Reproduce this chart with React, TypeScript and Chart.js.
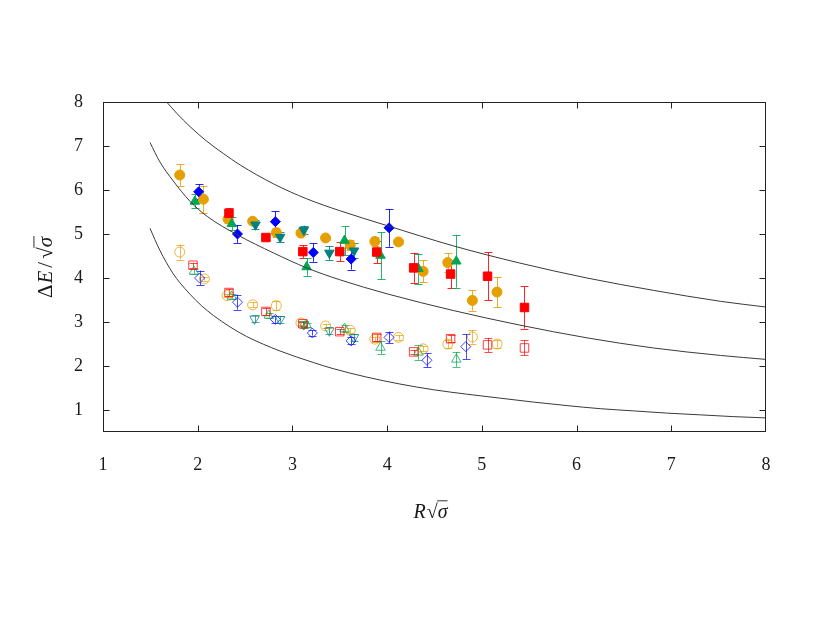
import React, { useEffect, useRef } from 'react';
import { Chart, registerables } from 'chart.js';

Chart.register(...registerables);

// ---- axis ticks ----
const xTicks = [1, 2, 3, 4, 5, 6, 7, 8];
const yTicks = [1, 2, 3, 4, 5, 6, 7, 8];

// ---- theory curves ----
const curveUpperX = [1.672, 1.78, 1.919, 2.095, 2.27, 2.447, 2.8, 3.15, 3.5, 4.0, 4.7, 5.4, 6.11, 6.81, 7.52, 8.0];
const curveUpperY = [8.0, 7.74, 7.44, 7.11, 6.83, 6.57, 6.14, 5.8, 5.53, 5.19, 4.73, 4.34, 4.0, 3.72, 3.47, 3.34];
const curveMiddleX = [1.496, 1.6, 1.74, 1.92, 2.1, 2.42, 2.8, 3.15, 3.5, 4.0, 4.7, 5.4, 6.11, 6.81, 7.52, 8.0];
const curveMiddleY = [7.08, 6.64, 6.21, 5.74, 5.4, 4.98, 4.57, 4.23, 3.96, 3.64, 3.26, 2.93, 2.64, 2.41, 2.24, 2.15];
const curveLowerX = [1.496, 1.6, 1.74, 1.813, 1.919, 2.04, 2.165, 2.34, 2.517, 2.87, 3.22, 3.43, 3.78, 4.135, 4.49, 4.84, 5.19, 5.545, 5.9, 6.25, 6.6, 6.95, 7.3, 7.65, 8.0];
const curveLowerY = [5.13, 4.63, 4.1, 3.89, 3.63, 3.37, 3.15, 2.89, 2.67, 2.34, 2.08, 1.94, 1.75, 1.59, 1.46, 1.36, 1.27, 1.18, 1.1, 1.03, 0.98, 0.93, 0.89, 0.85, 0.82];

// ---- upper group (filled markers) ----
const sqFX = [2.33, 2.72, 3.11, 3.5, 3.89, 4.28, 4.67, 5.06, 5.45];
const sqFY = [5.47, 4.92, 4.6, 4.6, 4.59, 4.23, 4.09, 4.04, 3.33];
const sqFE = [0.12, 0.05, 0.15, 0.22, 0.25, 0.34, 0.32, 0.54, 0.48];

const dmFX = [2.01, 2.42, 2.82, 3.22, 3.62, 4.02];
const dmFY = [5.96, 5.0, 5.28, 4.58, 4.43, 5.14];
const dmFE = [0.17, 0.2, 0.24, 0.21, 0.24, 0.43];

const trFX = [1.97, 2.36, 3.15, 3.55, 3.93, 4.33, 4.73];
const trFY = [5.74, 5.23, 4.25, 4.85, 4.51, 4.21, 4.38];
const trFE = [0.16, 0.15, 0.2, 0.33, 0.53, 0.34, 0.6];

const tdFX = [2.61, 2.87, 3.12, 3.39, 3.65];
const tdFY = [5.21, 4.93, 5.09, 4.57, 4.62];
const tdFE = [0.1, 0.12, 0.1, 0.16, 0.17];

const ciFX = [1.81, 2.06, 2.32, 2.58, 2.83, 3.09, 3.35, 3.61, 3.87, 4.12, 4.38, 4.64, 4.9, 5.16];
const ciFY = [6.34, 5.79, 5.34, 5.29, 5.03, 5.02, 4.91, 4.75, 4.83, 4.82, 4.15, 4.35, 3.49, 3.68];
const ciFE = [0.24, 0.31, 0.08, 0.04, 0.1, 0.04, 0.04, 0.11, 0.11, 0.04, 0.25, 0.21, 0.23, 0.34];

// ---- lower group (open markers) ----
const sqOX = [1.95, 2.33, 2.72, 3.11, 3.5, 3.89, 4.28, 4.67, 5.06, 5.45];
const sqOY = [4.29, 3.67, 3.24, 2.96, 2.78, 2.65, 2.32, 2.62, 2.48, 2.41];
const sqOE = [0.06, 0.08, 0.08, 0.05, 0.06, 0.08, 0.05, 0.08, 0.16, 0.17];

const dmOX = [2.02, 2.42, 2.82, 3.21, 3.62, 4.02, 4.42, 4.83];
const dmOY = [4.0, 3.45, 3.06, 2.75, 2.57, 2.65, 2.13, 2.44];
const dmOE = [0.17, 0.17, 0.08, 0.06, 0.08, 0.13, 0.16, 0.28];

const trOX = [1.96, 2.36, 2.75, 3.15, 3.55, 3.93, 4.33, 4.73];
const trOY = [4.15, 3.58, 3.15, 2.93, 2.85, 2.42, 2.31, 2.15];
const trOE = [0.05, 0.05, 0.05, 0.05, 0.08, 0.15, 0.17, 0.17];

const tdOX = [2.6, 2.87, 3.12, 3.39, 3.65];
const tdOY = [3.07, 3.06, 2.94, 2.8, 2.65];
const tdOE = [0.08, 0.08, 0.08, 0.08, 0.08];

const ciOX = [1.81, 2.07, 2.31, 2.58, 2.83, 3.09, 3.35, 3.61, 3.87, 4.12, 4.38, 4.64, 4.9, 5.16];
const ciOY = [4.59, 3.98, 3.6, 3.39, 3.37, 2.98, 2.91, 2.81, 2.61, 2.65, 2.39, 2.5, 2.66, 2.5];
const ciOE = [0.17, 0.04, 0.04, 0.06, 0.1, 0.04, 0.05, 0.06, 0.06, 0.05, 0.06, 0.1, 0.15, 0.08];

const RED = '#ff0000';
const BLUE = '#0000ff';
const GREEN = '#00a651';
const TEAL = '#008080';
const ORANGE = '#e69f00';
const FONT = '"Liberation Serif", "DejaVu Serif", serif';

const pts = (xs: number[], ys: number[]) => xs.map((x, i) => ({ x, y: ys[i] }));

function alpha(hex: string, a: number) {
  const n = parseInt(hex.slice(1), 16);
  return `rgba(${(n >> 16) & 255},${(n >> 8) & 255},${n & 255},${a})`;
}

function markerSet(xs: number[], ys: number[], es: number[], color: string, style: string, radius: number, filled: boolean, rotation = 0) {
  return {
    data: pts(xs, ys),
    errorBars: es,
    barColor: filled ? alpha(color, 0.85) : alpha(color, 0.7),
    showLine: false,
    pointStyle: style,
    pointRadius: radius,
    pointRotation: rotation,
    pointBorderWidth: 1,
    borderColor: filled ? color : alpha(color, 0.75),
    backgroundColor: filled ? color : 'rgba(0,0,0,0)',
    pointBackgroundColor: filled ? color : 'rgba(0,0,0,0)',
    pointBorderColor: filled ? color : alpha(color, 0.75),
  };
}

function curveSet(xs: number[], ys: number[]) {
  return {
    data: pts(xs, ys),
    showLine: true,
    pointRadius: 0,
    borderColor: '#3a3a3a',
    borderWidth: 1,
    cubicInterpolationMode: 'monotone',
    fill: false,
  };
}

const errorBarPlugin = {
  id: 'errorBars',
  beforeDatasetsDraw(chart: any) {
    const { ctx, chartArea, scales } = chart;
    ctx.save();
    ctx.beginPath();
    ctx.rect(chartArea.left, chartArea.top, chartArea.right - chartArea.left, chartArea.bottom - chartArea.top);
    ctx.clip();
    chart.data.datasets.forEach((ds: any) => {
      if (!ds.errorBars) return;
      ctx.strokeStyle = ds.barColor;
      ctx.lineWidth = 1;
      ds.data.forEach((p: any, i: number) => {
        const e = ds.errorBars[i];
        const px = Math.round(scales.x.getPixelForValue(p.x)) + 0.5;
        const y1 = scales.y.getPixelForValue(p.y + e);
        const y2 = scales.y.getPixelForValue(p.y - e);
        ctx.beginPath();
        ctx.moveTo(px, y1);
        ctx.lineTo(px, y2);
        ctx.moveTo(px - 4, Math.round(y1) + 0.5);
        ctx.lineTo(px + 4, Math.round(y1) + 0.5);
        ctx.moveTo(px - 4, Math.round(y2) + 0.5);
        ctx.lineTo(px + 4, Math.round(y2) + 0.5);
        ctx.stroke();
      });
    });
    ctx.restore();
  },
};

function drawMath(ctx: CanvasRenderingContext2D, segs: any[], cx: number, baseY: number, size: number) {
  const fontOf = (it: boolean) => `${it ? 'italic ' : ''}${size}px ${FONT}`;
  let total = 0;
  const widths = segs.map((s) => {
    ctx.font = fontOf(!!s.it);
    const w = ctx.measureText(s.t).width + (s.gap || 0);
    total += w;
    return w;
  });
  let x = cx - total / 2;
  ctx.textBaseline = 'alphabetic';
  ctx.textAlign = 'left';
  ctx.fillStyle = '#1a1a1a';
  ctx.strokeStyle = '#1a1a1a';
  segs.forEach((s, i) => {
    ctx.font = fontOf(!!s.it);
    ctx.fillText(s.t, x + (s.pre || 0), baseY);
    if (s.over) {
      ctx.beginPath();
      ctx.lineWidth = 0.9;
      const oy = baseY - size * 0.86;
      ctx.moveTo(x - 0.5, oy);
      ctx.lineTo(x + widths[i], oy);
      ctx.stroke();
    }
    x += widths[i];
  });
}

const framePlugin = {
  id: 'frame',
  afterDraw(chart: any) {
    const { ctx, chartArea: a, scales } = chart;
    ctx.save();
    ctx.strokeStyle = '#222';
    ctx.lineWidth = 1;
    const L = Math.round(a.left) + 0.5, R = Math.round(a.right) - 0.5;
    const T = Math.round(a.top) + 0.5, B = Math.round(a.bottom) - 0.5;
    ctx.strokeRect(L, T, R - L, B - T);
    ctx.beginPath();
    xTicks.forEach((v) => {
      if (v === xTicks[0] || v === xTicks[xTicks.length - 1]) return;
      const px = Math.round(scales.x.getPixelForValue(v)) + 0.5;
      ctx.moveTo(px, B); ctx.lineTo(px, B - 6);
      ctx.moveTo(px, T); ctx.lineTo(px, T + 6);
    });
    yTicks.forEach((v) => {
      const py = Math.round(scales.y.getPixelForValue(v)) + 0.5;
      if (py < T + 2) return;
      ctx.moveTo(L, py); ctx.lineTo(L + 6, py);
      ctx.moveTo(R, py); ctx.lineTo(R - 6, py);
    });
    ctx.stroke();

    // axis titles
    const cx = (a.left + a.right) / 2 - 4;
    drawMath(ctx, [
      { t: 'R', it: true, gap: 1 },
      { t: '√', it: false },
      { t: 'σ', it: true, over: true },
    ], cx, 518, 20);

    ctx.save();
    ctx.translate(52, (a.top + a.bottom) / 2);
    ctx.rotate(-Math.PI / 2);
    drawMath(ctx, [
      { t: 'Δ', it: false, gap: 1 },
      { t: 'E', it: true, gap: 3 },
      { t: '/', it: false, gap: 3 },
      { t: '√', it: false },
      { t: 'σ', it: true, over: true, gap: 1 },
    ], 0, 0, 21);
    ctx.restore();
    ctx.restore();
  },
};

export default function App() {
  const ref = useRef<HTMLCanvasElement>(null);
  useEffect(() => {
    document.body.style.margin = '0';
    const canvas = ref.current!;
    const chart = new Chart(canvas, {
      type: 'scatter',
      data: {
        datasets: [
          curveSet(curveUpperX, curveUpperY),
          curveSet(curveMiddleX, curveMiddleY),
          curveSet(curveLowerX, curveLowerY),
          markerSet(sqFX, sqFY, sqFE, RED, 'rect', 6, true),
          markerSet(dmFX, dmFY, dmFE, BLUE, 'rectRot', 5, true),
          markerSet(trFX, trFY, trFE, GREEN, 'triangle', 5.5, true),
          markerSet(tdFX, tdFY, tdFE, TEAL, 'triangle', 5.5, true, 180),
          markerSet(ciFX, ciFY, ciFE, ORANGE, 'circle', 5, true),
          markerSet(sqOX, sqOY, sqOE, RED, 'rect', 6, false),
          markerSet(dmOX, dmOY, dmOE, BLUE, 'rectRot', 5, false),
          markerSet(trOX, trOY, trOE, GREEN, 'triangle', 5.5, false),
          markerSet(tdOX, tdOY, tdOE, TEAL, 'triangle', 5.5, false, 180),
          markerSet(ciOX, ciOY, ciOE, ORANGE, 'circle', 5, false),
        ] as any,
      },
      options: {
        animation: false,
        responsive: false,
        devicePixelRatio: 1,
        layout: { padding: { top: 102, right: 51, left: 0, bottom: 0 } },
        plugins: { legend: { display: false }, tooltip: { enabled: false } },
        scales: {
          x: {
            type: 'linear',
            min: 1,
            max: 8,
            afterBuildTicks: (s: any) => { s.ticks = xTicks.map((v) => ({ value: v })); },
            afterFit: (s: any) => { s.height = 200; },
            grid: { display: false, drawTicks: false },
            border: { display: false },
            ticks: { font: { family: FONT, size: 18 }, color: '#1a1a1a', padding: 22, maxRotation: 0 },
          },
          y: {
            type: 'linear',
            min: 0.5,
            max: 8,
            afterBuildTicks: (s: any) => { s.ticks = yTicks.map((v) => ({ value: v })); },
            afterFit: (s: any) => { s.width = 103; },
            grid: { display: false, drawTicks: false },
            border: { display: false },
            ticks: { font: { family: FONT, size: 18 }, color: '#1a1a1a', padding: 20 },
          },
        },
      } as any,
      plugins: [errorBarPlugin, framePlugin],
    });
    return () => chart.destroy();
  }, []);
  return (
    <div style={{ width: 817, height: 632, background: '#fff' }}>
      <canvas ref={ref} width={817} height={632} style={{ display: 'block' }} />
    </div>
  );
}
